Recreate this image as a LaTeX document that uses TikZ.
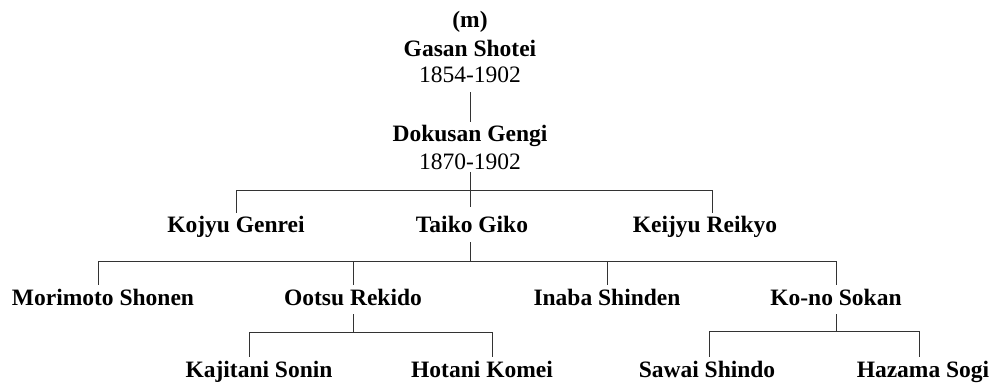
\documentclass[tikz,border=0pt]{standalone}
\usepackage{fontspec}
\setmainfont{Liberation Serif}
\begin{document}
\begin{tikzpicture}[x=1pt,y=-1pt,
  nm/.style={font=\fontsize{23.5}{26}\selectfont\bfseries, anchor=base, inner xsep=0pt, inner ysep=4pt, text height=16pt, text depth=5pt},
  dt/.style={nm, font=\fontsize{23.5}{26}\selectfont},
  ln/.style={draw=black!80, line width=0.9pt}]
\useasboundingbox (0,0) rectangle (995,387);
% level 0
\node[nm] (m)   at (470,28) {(m)};
\node[nm] (gas) at (470,57) {Gasan Shotei};
\node[dt] (d1)  at (470,83) {1854-1902};
\node[nm] (dok) at (470,142) {Dokusan Gengi};
\node[dt] (d2)  at (470,170) {1870-1902};
% level 1
\node[nm] (koj) at (236,233) {Kojyu Genrei};
\node[nm] (tai) at (472,233) {Taiko Giko};
\node[nm] (kei) at (705,233) {Keijyu Reikyo};
% level 2
\node[nm] (mor) at (103,305) {Morimoto Shonen};
\node[nm] (oot) at (353,305) {Ootsu Rekido};
\node[nm] (ina) at (607,305) {Inaba Shinden};
\node[nm] (kon) at (836,305) {Ko-no Sokan};
% level 3
\node[nm] (kaj) at (259,377) {Kajitani Sonin};
\node[nm] (hot) at (482,377) {Hotani Komei};
\node[nm] (saw) at (707,377) {Sawai Shindo};
\node[nm] (haz) at (923,377) {Hazama Sogi};
% bar levels
\coordinate (b1) at (0,190);
\coordinate (b2) at (0,261);
\coordinate (b3) at (0,332);
\coordinate (b4) at (0,331);
% connectors
\draw[ln] (d1.south) -- (d1.south |- dok.north);
\draw[ln] ([yshift=-2pt]d2.base) -- ([yshift=6pt]d2.base |- tai.north);
\draw[ln] (koj.north) -- (koj.north |- b1) -- ([xshift=7pt]kei.north |- b1) -- ([xshift=7pt]kei.north);
\draw[ln] (tai.south -| d2.base) -- (d2.base |- b2);
\draw[ln] ([xshift=-5pt]mor.north) -- ([xshift=-5pt]mor.north |- b2) -- (kon.north |- b2) -- (kon.north);
\draw[ln] (oot.north |- b2) -- (oot.north);
\draw[ln] (ina.north |- b2) -- (ina.north);
\draw[ln] (oot.south) -- (oot.south |- b3);
\draw[ln] ([xshift=-10pt]kaj.north) -- ([xshift=-10pt]kaj.north |- b3) -- ([xshift=10pt]hot.north |- b3) -- ([xshift=10pt]hot.north);
\draw[ln] (kon.south) -- (kon.south |- b4);
\draw[ln] ([xshift=2pt]saw.north) -- ([xshift=2pt]saw.north |- b4) -- ([xshift=-4pt]haz.north |- b4) -- ([xshift=-4pt]haz.north);
\end{tikzpicture}
\end{document}
